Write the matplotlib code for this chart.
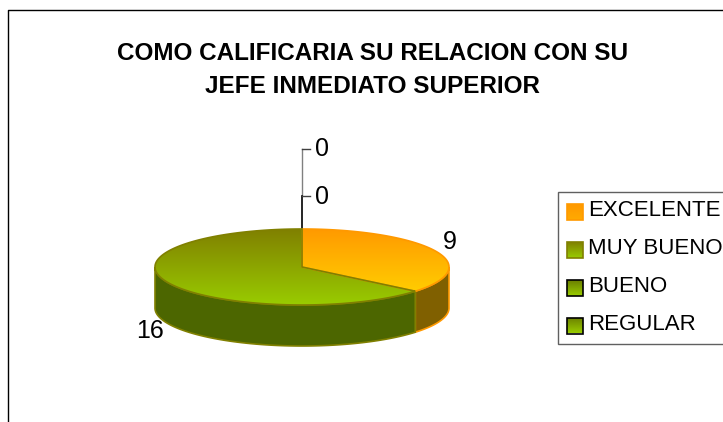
import numpy as np
import matplotlib.pyplot as plt
from matplotlib.colors import LinearSegmentedColormap
from matplotlib.patches import Polygon, Rectangle

plt.rcParams['font.family'] = ['Liberation Sans', 'DejaVu Sans']

titulo = 'COMO CALIFICARIA SU RELACION CON SU\nJEFE INMEDIATO SUPERIOR'
categorias = ['EXCELENTE', 'MUY BUENO', 'BUENO', 'REGULAR']
valores = [9, 16, 0, 0]
etiquetas_eje = ['0', '0']

# colores: (arriba, abajo, lado, borde)
colores = [
    ('#FF9900', '#FFCC00', '#806000', '#FF9900'),
    ('#808000', '#99CC00', '#4C6600', '#808000'),
]
colores_legenda = [
    ('#FF9900', '#FFAA00', '#FF9900'),
    ('#808000', '#99CC00', '#808000'),
    ('#6B7F00', '#99CC00', '#000000'),
    ('#6B7F00', '#99CC00', '#000000'),
]

# geometria del pastel en pixeles
cx, cy = 302, 267
rx, ry = 147, 38
alto = 41

fig = plt.figure(figsize=(7.23, 4.22), dpi=100)
ax = fig.add_axes([0, 0, 1, 1])
ax.axis('off')


def arco(a1, a2, dy=0):
    t = np.radians(np.linspace(a1, a2, 200))
    return np.column_stack([cx + rx * np.sin(t), cy + dy - ry * np.cos(t)])


def degradado(c1, c2, extent, clip):
    cmap = LinearSegmentedColormap.from_list('g', [c1, c2])
    im = ax.imshow(np.linspace(0, 1, 128).reshape(-1, 1), cmap=cmap,
                   extent=extent, aspect='auto', zorder=3)
    im.set_clip_path(clip)


# marco del grafico
ax.plot([8, 8, 723], [422, 9.5, 9.5], color='black', lw=1)

# eje vertical con los ceros
ax.plot([302, 302], [149, 196], color='#808080', lw=1)
ax.plot([302, 302], [196, 229], color='black', lw=1.2)
for y, txt in zip([149, 196], etiquetas_eje):
    ax.plot([302, 310], [y, y], color='#404040', lw=1)
    ax.text(322, y + 0.5, txt, fontsize=18, ha='center', va='center')

# porciones
angulos = np.cumsum([0] + valores) / sum(valores) * 360
for i, c in enumerate(colores):
    a1, a2 = angulos[i], angulos[i + 1]
    # lado visible, solo la mitad de adelante
    l1, l2 = max(a1, 90), min(a2, 270)
    if l1 < l2:
        lado = np.vstack([arco(l1, l2), arco(l1, l2, alto)[::-1]])
        ax.add_patch(Polygon(lado, closed=True, facecolor=c[2], edgecolor=c[3],
                             lw=1.2, zorder=2))
    sup = np.vstack([[cx, cy], arco(a1, a2)])
    ymax = sup[:, 1].max()
    p = Polygon(sup, closed=True, facecolor='none', edgecolor=c[3], lw=1.2, zorder=4)
    ax.add_patch(p)
    degradado(c[0], c[1], (cx - rx, cx + rx, ymax, cy - ry), p)

# etiquetas de valores
ax.text(450, 242, str(valores[0]), fontsize=18, ha='center', va='center')
ax.text(150, 331.5, str(valores[1]), fontsize=18, ha='center', va='center')

# titulo
ax.text(372.5, 70, titulo, fontsize=17.5, fontweight='bold', ha='center',
        va='center', linespacing=1.6)

# leyenda
ax.add_patch(Rectangle((558, 192), 180, 152, facecolor='white', edgecolor='#606060',
                       lw=1, zorder=1))
for cat, c, y in zip(categorias, colores_legenda, [212, 250, 288, 325.5]):
    r = Rectangle((567, y - 8), 16, 16, facecolor='none', edgecolor=c[2], lw=1.2, zorder=4)
    ax.add_patch(r)
    degradado(c[0], c[1], (567, 583, y + 8, y - 8), r)
    ax.text(588.5, y - 1.5, cat, fontsize=16, ha='left', va='center')

ax.set_xlim(0, 723)
ax.set_ylim(422, 0)

fig.savefig('out.png', dpi=100)
